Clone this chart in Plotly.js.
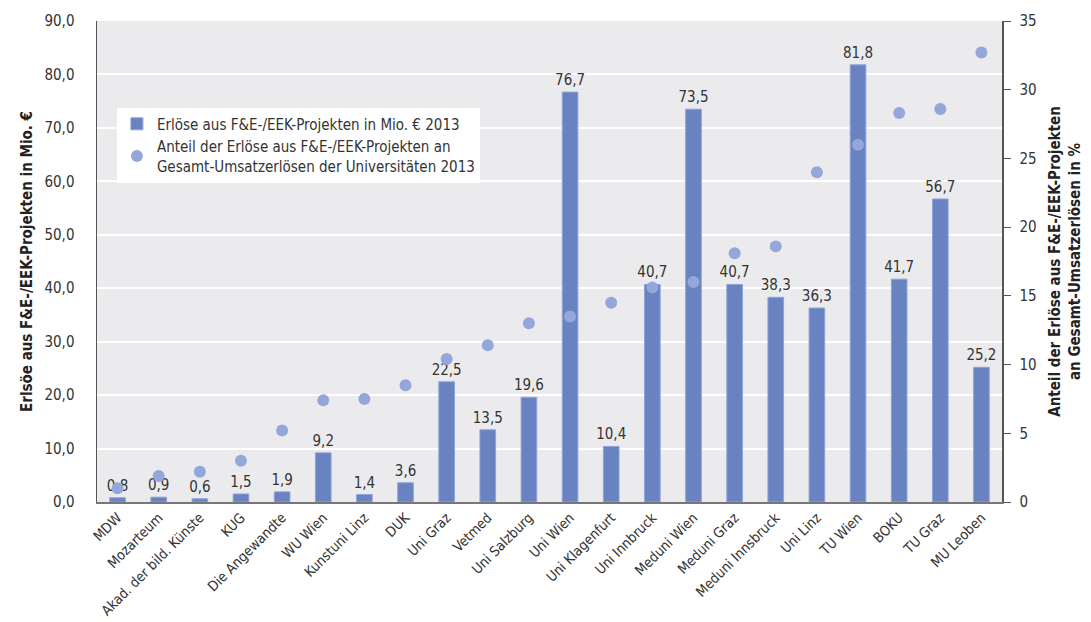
<!DOCTYPE html>
<html>
<head>
<meta charset="utf-8">
<script src="https://cdn.plot.ly/plotly-3.0.1.min.js"></script>
<style>
html,body{margin:0;padding:0;background:#fff;}
#chart{width:1091px;height:622px;}
</style>
</head>
<body>
<div id="chart"></div>
<script>
const categories = ["MDW","Mozarteum","Akad. der bild. Künste","KUG","Die Angewandte","WU Wien","Kunstuni Linz","DUK","Uni Graz","Vetmed","Uni Salzburg","Uni Wien","Uni Klagenfurt","Uni Innbruck","Meduni Wien","Meduni Graz","Meduni Innsbruck","Uni Linz","TU Wien","BOKU","TU Graz","MU Leoben"];
const revenue = [0.8,0.9,0.6,1.5,1.9,9.2,1.4,3.6,22.5,13.5,19.6,76.7,10.4,40.7,73.5,40.7,38.3,36.3,81.8,41.7,56.7,25.2];
const share = [1.0,1.9,2.2,3.0,5.2,7.4,7.5,8.5,10.4,11.4,13.0,13.5,14.5,15.6,16.0,18.1,18.6,24.0,26.0,28.3,28.6,32.7];
const leftTicks = [0,10,20,30,40,50,60,70,80,90];
const rightTicks = [0,5,10,15,20,25,30,35];
const seriesNames = ["Erlöse aus F&E-/EEK-Projekten in Mio. € 2013","Anteil der Erlöse aus F&E-/EEK-Projekten an<br>Gesamt-Umsatzerlösen der Universitäten 2013"];
const leftTitle = "Erlsöe aus F&E-/EEK-Projekten in Mio. €";
const rightTitle = "Anteil der Erlöse aus F&E-/EEK-Projekten<br>an Gesamt-Umsatzerlösen in %";

const FONT = '"DejaVu Sans Condensed","Liberation Sans Narrow",Arial,sans-serif';

const traces = [
  {
    type:'bar', x:categories, y:revenue, name:seriesNames[0],
    marker:{color:'#6882c2', line:{color:'#8fa3d6', width:1}},
    texttemplate:'%{y:.1f}', textposition:'outside', cliponaxis:false, constraintext:'none',
    textfont:{family:FONT, size:15, color:'#333'},
    yaxis:'y'
  },
  {
    type:'scatter', mode:'markers', x:categories, y:share, name:seriesNames[1],
    marker:{color:'#93a7da', size:12},
    yaxis:'y2'
  }
];

const layout = {
  width:1091, height:622,
  margin:{l:97, r:89, t:21, b:120},
  paper_bgcolor:'#fff', plot_bgcolor:'#ebebee',
  separators:',.',
  font:{family:FONT, size:15, color:'#333'},
  bargap:0.62,
  showlegend:true,
  legend:{x:0.022, y:0.82, xanchor:'left', yanchor:'top', bgcolor:'#fff',
    font:{family:FONT, size:15, color:'#333'}, tracegroupgap:6, itemwidth:30},
  xaxis:{range:[-0.5, categories.length-0.5], tickangle:-45, tickfont:{family:FONT, size:14, color:'#333'},
    showline:true, linecolor:'#777', linewidth:2, ticks:'', showgrid:false},
  yaxis:{range:[0,90], tickvals:leftTicks, tickformat:'.1f',
    showgrid:true, gridcolor:'#ffffff', gridwidth:2, zeroline:false,
    showline:true, linecolor:'#555', linewidth:1.5, ticks:'', ticklabelstandoff:18,
    tickfont:{family:FONT, size:15, color:'#333'},
    title:{text:leftTitle, font:{family:FONT, size:15, color:'#222', weight:'bold'}, standoff:8}},
  yaxis2:{range:[0,35], tickvals:rightTicks, overlaying:'y', side:'right',
    showgrid:false, zeroline:false, showline:true, linecolor:'#555', linewidth:1.5,
    ticks:'outside', ticklen:7, tickcolor:'#555', ticklabelstandoff:6,
    tickfont:{family:FONT, size:15, color:'#333'},
    title:{text:rightTitle, font:{family:FONT, size:15, color:'#222', weight:'bold'}, standoff:14}}
};

Plotly.newPlot('chart', traces, layout, {displayModeBar:false, staticPlot:true});
</script>
</body>
</html>
